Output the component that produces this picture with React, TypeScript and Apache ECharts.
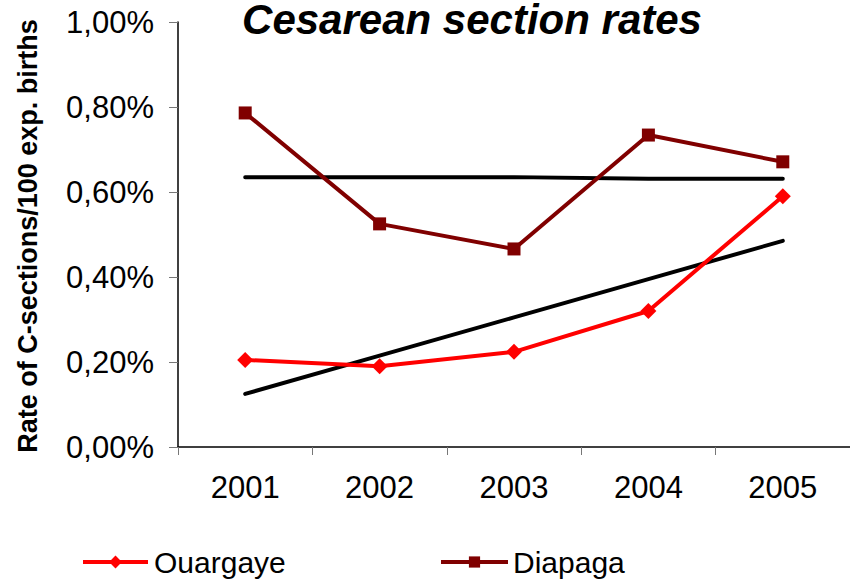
import React, { useEffect, useRef } from "react";
import * as echarts from "echarts";

const years = ["2001", "2002", "2003", "2004", "2005"];
const ouargaye = [0.205, 0.19, 0.224, 0.32, 0.59];
const diapaga = [0.786, 0.525, 0.466, 0.734, 0.671];
const ouargayeTrend = [0.125, 0.215, 0.305, 0.395, 0.485];
const diapagaTrend = [0.635, 0.635, 0.635, 0.631, 0.631];
const yTicks = [0, 0.2, 0.4, 0.6, 0.8, 1.0];

const FONT = "'Liberation Sans', Arial, sans-serif";

export default function App() {
  const ref = useRef<HTMLDivElement>(null);
  useEffect(() => {
    if (!ref.current) return;
    const chart = echarts.init(ref.current, null, { renderer: "svg" });
    const fmt = (v: number) => v.toFixed(2).replace(".", ",") + "%";
    chart.setOption({
      animation: false,
      backgroundColor: "#ffffff",
      textStyle: { fontFamily: FONT, color: "#000" },
      grid: { left: 178, right: -4, top: 22, bottom: 133, containLabel: false },
      xAxis: {
        type: "category",
        data: years,
        boundaryGap: true,
        axisLine: { lineStyle: { color: "#000", width: 1.5 } },
        axisTick: { show: true, length: 8, inside: false, lineStyle: { color: "#777", width: 1 } },
        axisLabel: { fontSize: 31, color: "#000", fontFamily: FONT, margin: 25 },
        splitLine: { show: false },
      },
      yAxis: {
        type: "value",
        min: yTicks[0],
        max: yTicks[yTicks.length - 1],
        interval: 0.2,
        axisLine: { show: true, lineStyle: { color: "#000", width: 1.5 } },
        axisTick: { show: true, length: 9, lineStyle: { color: "#777", width: 1 } },
        axisLabel: { fontSize: 31, color: "#000", fontFamily: FONT, margin: 24, formatter: fmt },
        splitLine: { show: false },
      },
      legend: [
        {
          data: ["Ouargaye"],
          left: 76,
          top: 542,
          itemWidth: 65,
          itemHeight: 16,
          lineStyle: { width: 4 },
          textStyle: { fontSize: 30, color: "#000", fontFamily: FONT, padding: [0, 0, 0, 1] },
        },
        {
          data: ["Diapaga"],
          left: 434,
          top: 542,
          itemWidth: 67,
          itemHeight: 14,
          lineStyle: { width: 4 },
          textStyle: { fontSize: 30, color: "#000", fontFamily: FONT, padding: [0, 0, 0, 0] },
        },
      ],
      series: [
        {
          name: "Diapaga trend",
          type: "line",
          data: diapagaTrend,
          symbol: "none",
          lineStyle: { color: "#000", width: 4, cap: "round" },
          z: 1,
        },
        {
          name: "Ouargaye trend",
          type: "line",
          data: ouargayeTrend,
          symbol: "none",
          lineStyle: { color: "#000", width: 4, cap: "round" },
          z: 1,
        },
        {
          name: "Ouargaye",
          type: "line",
          data: ouargaye,
          symbol: "diamond",
          symbolSize: 16,
          itemStyle: { color: "#ff0000" },
          lineStyle: { color: "#ff0000", width: 4 },
          z: 3,
        },
        {
          name: "Diapaga",
          type: "line",
          data: diapaga,
          symbol: "rect",
          symbolSize: 13,
          itemStyle: { color: "#800000" },
          lineStyle: { color: "#800000", width: 4 },
          z: 3,
        },
      ],
      graphic: [
        {
          type: "text",
          x: 472,
          y: 19,
          style: {
            text: "Cesarean section rates",
            font: `italic bold 42px ${FONT}`,
            fill: "#000",
            textAlign: "center",
            textVerticalAlign: "middle",
          },
        },
        {
          type: "text",
          x: 28,
          y: 236,
          rotation: Math.PI / 2,
          style: {
            text: "Rate of C-sections/100 exp. births",
            font: `bold 27px ${FONT}`,
            fill: "#000",
            textAlign: "center",
            textVerticalAlign: "middle",
          },
        },
      ],
    });
    return () => chart.dispose();
  }, []);
  return <div ref={ref} style={{ width: 850, height: 580, position: "fixed", left: 0, top: 0 }} />;
}
